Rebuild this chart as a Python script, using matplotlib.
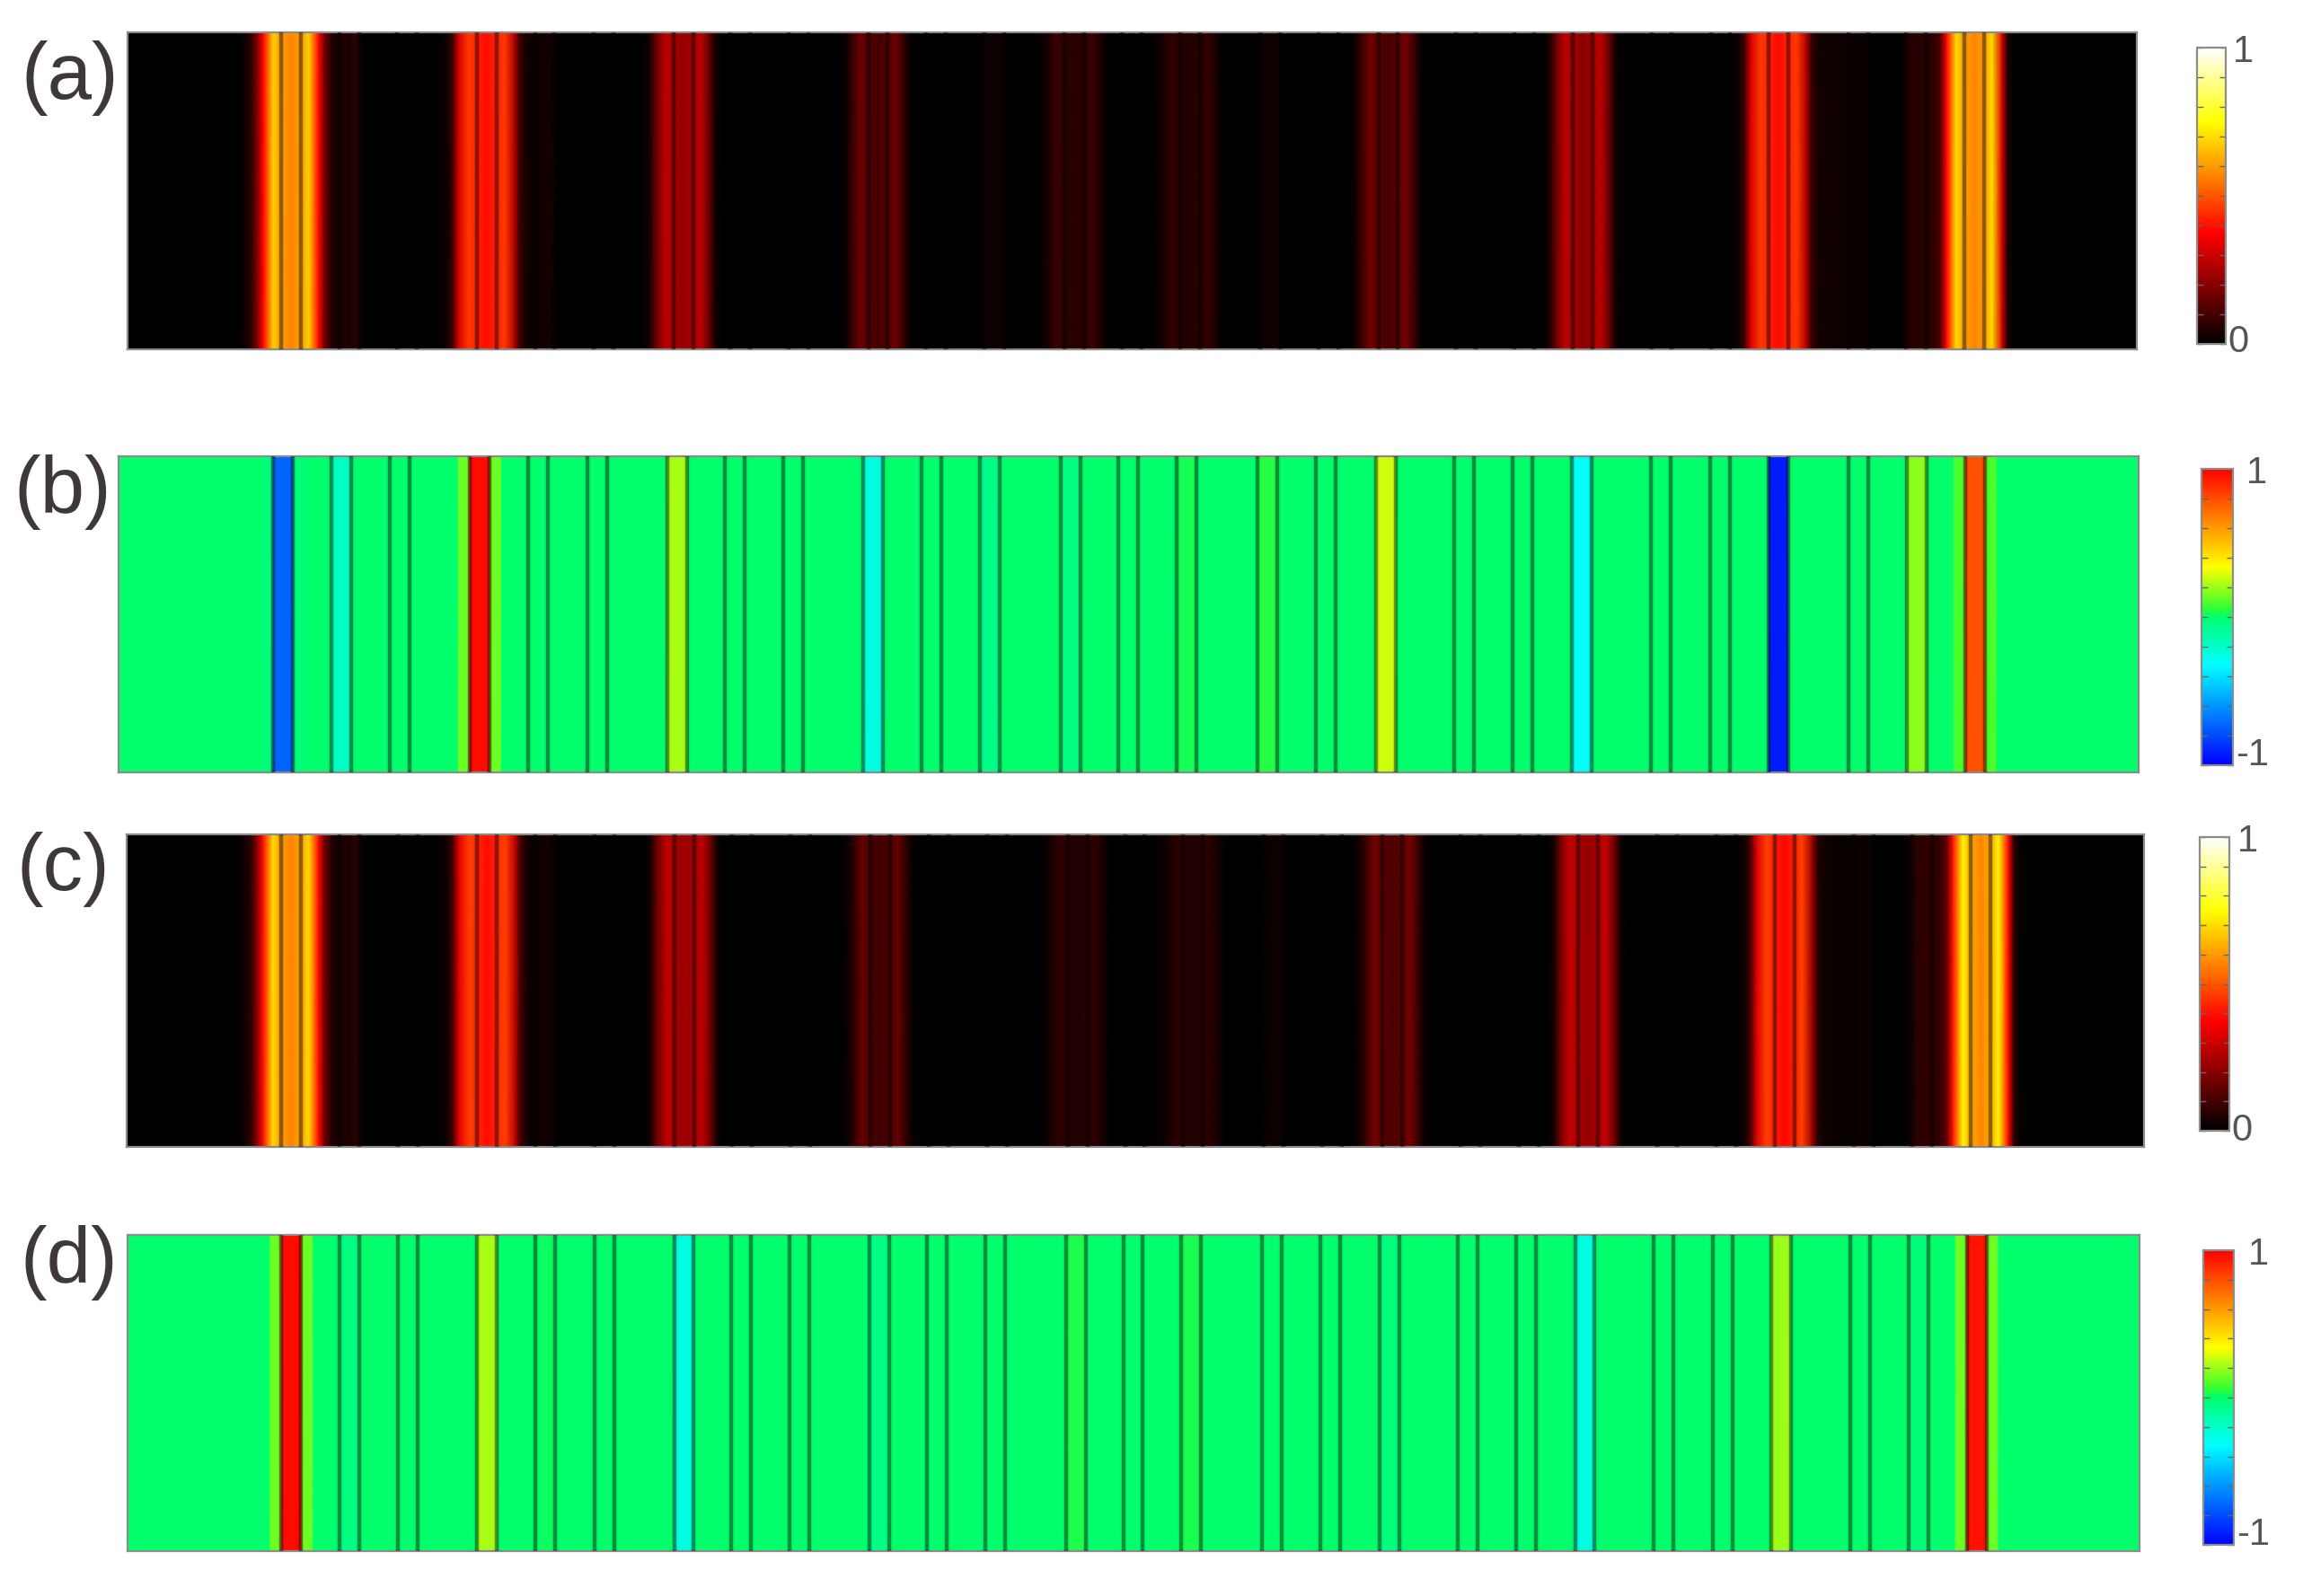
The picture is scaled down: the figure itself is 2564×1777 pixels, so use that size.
import numpy as np
import matplotlib
matplotlib.use("Agg")
import matplotlib.pyplot as plt
from matplotlib.colors import LinearSegmentedColormap, Normalize
from matplotlib.cm import ScalarMappable

W, H = 2564, 1777
plt.rcParams['font.family'] = ['Liberation Sans', 'DejaVu Sans']

# left edge of each of the 27 thin layers (position along the structure)
layer_left = [172, 237, 302, 391, 456, 522, 611, 675, 740, 829, 894, 959, 1049, 1113,
              1178, 1268, 1333, 1400, 1487, 1552, 1618, 1706, 1772, 1837, 1926, 1991, 2056]
layer_width = 22
span = 2249

# (a) intensity around the strong layers
main_offsets = [-46, -34, -27, -20, -9, -2, 11, 24, 31, 42, 48, 56]
a_main = {
    0:  [0, .06, .18, .38, .68, .62, .57, .62, .68, .38, .18, .06],
    3:  [0, .02, .09, .32, .46, .43, .39, .43, .46, .26, .08, .03],
    6:  [0, 0, .03, .14, .28, .25, .22, .25, .28, .11, .02, 0],
    9:  [0, 0, .01, .06, .16, .13, .10, .13, .16, .05, .01, 0],
    12: [0, 0, .01, .03, .09, .07, .06, .07, .09, .03, 0, 0],
    14: [0, 0, .01, .03, .08, .06, .05, .06, .08, .03, 0, 0],
    17: [0, 0, .02, .07, .17, .14, .10, .14, .17, .07, .01, 0],
    20: [0, 0, .03, .14, .28, .25, .20, .25, .28, .12, .02, 0],
    23: [0, .02, .09, .32, .46, .43, .39, .43, .46, .26, .08, .03],
    26: [.06, .07, .11, .38, .70, .62, .57, .62, .70, .32, .05, 0],
}
faint_offsets = [-6, 0, 11, 20, 26]
a_faint = {
    1:  [.04, .04, .04, .07, 0],
    4:  [.02, .025, .025, .035, 0],
    11: [0, .02, .02, .025, 0],
    15: [0, .02, .02, .025, 0],
    24: [.02, .025, .015, .015, 0],
    25: [0, .05, .06, .06, .06],
}

# (c) intensity
c_main = {
    0:  [0, .06, .19, .39, .70, .62, .57, .62, .70, .39, .18, .06],
    3:  [0, .02, .11, .34, .47, .44, .39, .44, .47, .28, .09, .03],
    6:  [0, 0, .03, .15, .28, .25, .23, .25, .28, .12, .02, 0],
    9:  [0, 0, .01, .05, .15, .12, .09, .12, .15, .05, .01, 0],
    12: [0, 0, .01, .03, .07, .06, .05, .06, .07, .02, 0, 0],
    14: [0, 0, .01, .02, .06, .06, .05, .06, .06, .02, 0, 0],
    17: [0, 0, .02, .07, .17, .14, .11, .14, .17, .06, .01, 0],
    20: [0, 0, .03, .16, .29, .26, .22, .26, .29, .13, .02, 0],
    23: [0, .02, .09, .32, .47, .43, .38, .43, .47, .23, .06, .02],
    26: [.07, .08, .14, .40, .74, .64, .57, .64, .74, .38, .06, 0],
}
c_faint = {
    1:  [.04, .04, .04, .07, 0],
    4:  [.015, .025, .025, .025, 0],
    15: [0, .015, .02, .02, 0],
    24: [.015, .02, .015, .015, 0],
    25: [0, .06, .07, .07, .07],
}

# (b) and (d) signed values of each layer
b_layer = [-.73, -.18, 0, .97, 0, 0, .22, 0, 0, -.25, 0, -.06, -.04, 0, .025, .04, 0, .27,
           0, 0, -.30, 0, 0, -.92, 0, .18, .79]
d_layer = [.97, -.04, 0, .22, .015, 0, -.25, 0, 0, -.05, 0, 0, .035, 0, .03, 0, 0, -.03,
           0, 0, -.25, 0, 0, .20, 0, -.02, .95]
b_glow = {0: -.02, 3: .14, 26: .09}
d_glow = {0: .14, 26: .14}

neg_ticks = [-1, 1]
hot_ticks = [0, 1]

# figure geometry in pixels: left, top, right, bottom
panel_box = {'a': (142, 36, 2379, 389), 'b': (132, 508, 2381, 860),
             'c': (141, 929, 2387, 1277), 'd': (142, 1375, 2382, 1727)}
bar_box = {'a': (2446, 53, 2478, 383), 'b': (2451, 522, 2486, 852),
           'c': (2449, 932, 2482, 1259), 'd': (2453, 1392, 2487, 1720)}
label_xy = {'a': (78, 87), 'b': (70, 548), 'c': (70, 968), 'd': (77, 1406)}

signed_cmap = LinearSegmentedColormap.from_list('signed', [
    (0.00, (0, 0, 1)),
    (0.34, (0, 1, 1)),
    (0.50, (0, 1, 110 / 255)),
    (0.53, (50 / 255, 1, 50 / 255)),
    (0.67, (1, 1, 0)),
    (1.00, (1, 0, 0))], N=512)
heat_cmap = LinearSegmentedColormap.from_list('heat', [
    (0.00, (0, 0, 0)),
    (0.375, (1, 0, 0)),
    (0.75, (1, 1, 0)),
    (1.00, (1, 1, 1))], N=512)

fig = plt.figure(figsize=(W / 100, H / 100), dpi=100, facecolor='white')


def axes_px(box):
    l, t, r, b = box
    return fig.add_axes([l / W, 1 - b / H, (r - l) / W, (b - t) / H])


def intensity_profile(main, faint):
    pts = {0.0: 0.0, float(span): 0.0}
    for idx, vals in faint.items():
        for o, v in zip(faint_offsets, vals):
            pts[float(layer_left[idx] + o)] = v
    for idx, vals in main.items():
        for o, v in zip(main_offsets, vals):
            pts[float(layer_left[idx] + o)] = v
    xs = sorted(pts)
    return np.array(xs), np.array([pts[x] for x in xs])


def signed_profile(layers, glow):
    pts = {0.0: 0.0, float(span): 0.0}
    for left, v, idx in zip(layer_left, layers, range(len(layers))):
        g = glow.get(idx, 0)
        right = left + layer_width
        if g:
            for x, y in [(left - 14, 0), (left - 12, g), (left - 2, g),
                         (right + 2, g), (right + 12, g), (right + 14, 0)]:
                pts[float(x)] = y
        else:
            pts[float(left - 1)] = 0
            pts[float(right + 1)] = 0
        pts[float(left + 1)] = v
        pts[float(right - 1)] = v
    xs = sorted(pts)
    return np.array(xs), np.array([pts[x] for x in xs])


def draw_panel(key, xs, vals, cmap, vmin, vmax, line_rgb):
    ax = axes_px(panel_box[key])
    ax.pcolormesh(xs, [0, 1], np.vstack([vals, vals]), shading='gouraud',
                  cmap=cmap, vmin=vmin, vmax=vmax)
    for left in layer_left:
        for x in (left, left + layer_width):
            ax.axvline(x, color=line_rgb, lw=4.6, alpha=.12, zorder=3)
            ax.axvline(x, color=line_rgb, lw=2.8, alpha=.36, zorder=4)
    ax.set_xlim(0, span)
    ax.set_ylim(0, 1)
    ax.set_xticks([])
    ax.set_yticks([])
    for s in ax.spines.values():
        s.set_color('#8c8c8c')
        s.set_linewidth(1.6)
    x, y = label_xy[key]
    fig.text(x / W, 1 - y / H, f'({key})', fontsize=64, color='#3f383a',
             ha='center', va='center')


def draw_bar(key, cmap, vmin, vmax, ticks, n_inner, top_dx, low_dx, low_dy):
    cax = axes_px(bar_box[key])
    cb = fig.colorbar(ScalarMappable(Normalize(vmin, vmax), cmap), cax=cax)
    cb.set_ticks(list(np.linspace(vmin, vmax, n_inner)))
    cb.ax.tick_params(left=True, right=True, direction='in', length=5, width=1,
                      color='#666666', labelleft=False, labelright=False)
    cb.outline.set_edgecolor('#8c8c8c')
    cb.outline.set_linewidth(1.6)
    l, t, r, b = bar_box[key]
    fig.text((r + top_dx) / W, 1 - (t + 5) / H, f'{ticks[1]}', fontsize=30, color='#555555',
             ha='center', va='center')
    fig.text((r + low_dx) / W, 1 - (b + low_dy) / H, f'{ticks[0]}', fontsize=30,
             color='#555555', ha='center', va='center')


xa, va = intensity_profile(a_main, a_faint)
xc, vc = intensity_profile(c_main, c_faint)
xb, vb = signed_profile(b_layer, b_glow)
xd, vd = signed_profile(d_layer, d_glow)

draw_panel('a', xa, va, heat_cmap, 0, 1, 'black')
draw_panel('b', xb, vb, signed_cmap, -1, 1, 'black')
draw_panel('c', xc, vc, heat_cmap, 0, 1, 'black')
draw_panel('d', xd, vd, signed_cmap, -1, 1, 'black')

draw_bar('a', heat_cmap, 0, 1, hot_ticks, 11, 19, 14, -2)
draw_bar('b', signed_cmap, -1, 1, neg_ticks, 11, 26, 22, -11)
draw_bar('c', heat_cmap, 0, 1, hot_ticks, 11, 20, 14, 0)
draw_bar('d', signed_cmap, -1, 1, neg_ticks, 11, 27, 22, -11)

fig.savefig('out.png', dpi=100, facecolor='white')
